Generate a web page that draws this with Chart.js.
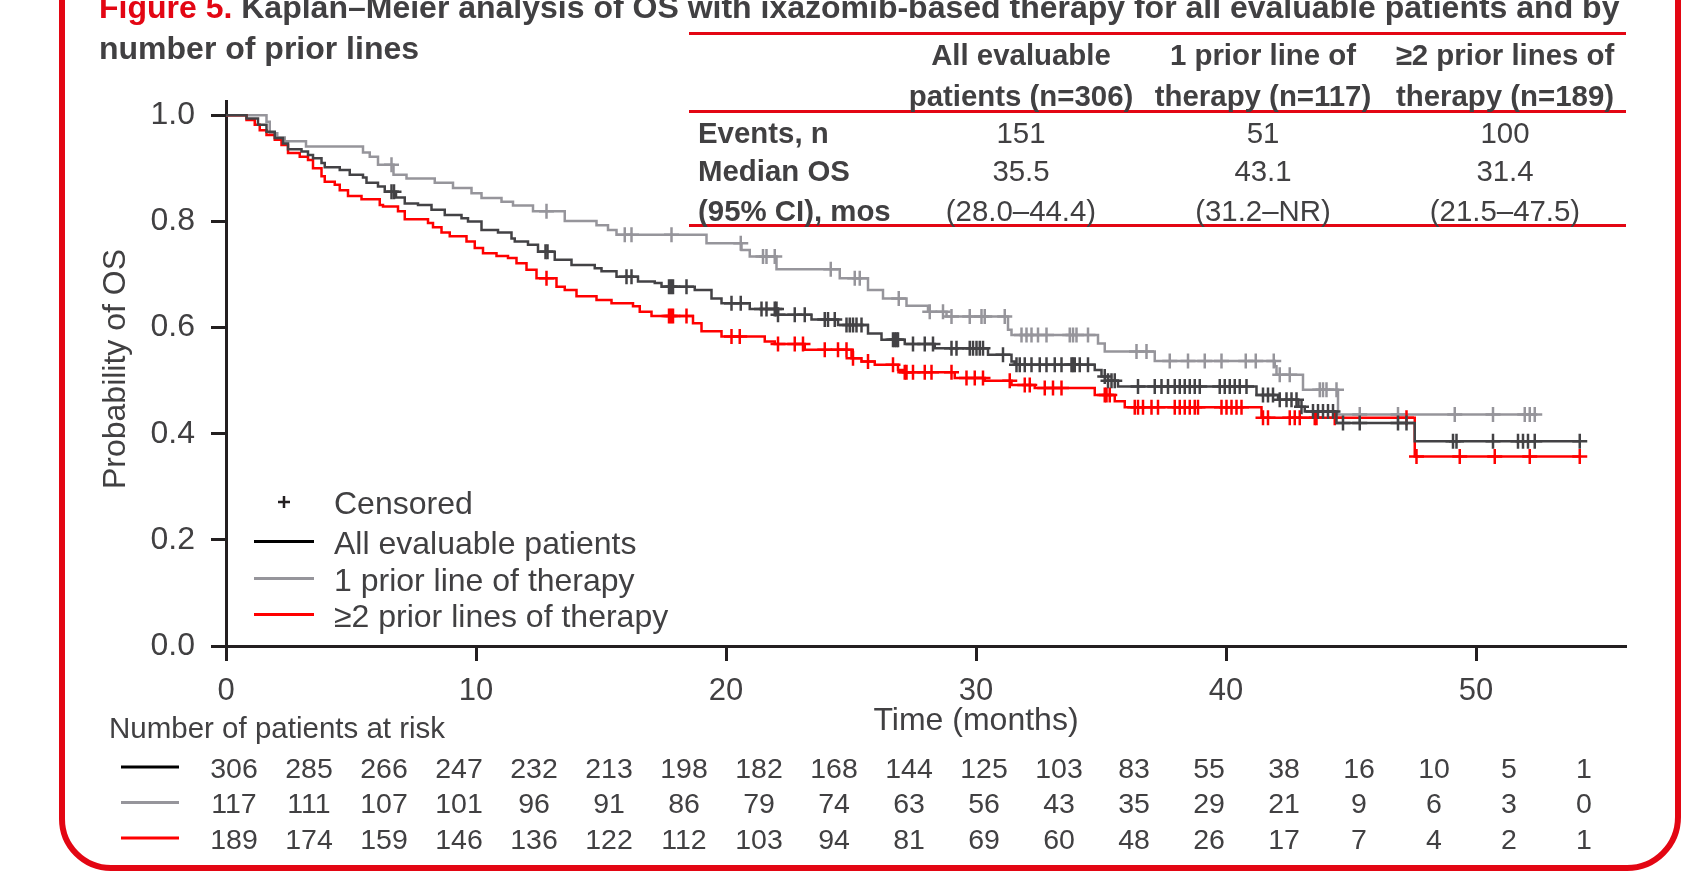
<!DOCTYPE html>
<html>
<head>
<meta charset="utf-8">
<script src="https://cdn.jsdelivr.net/npm/chart.js@4.4.1/dist/chart.umd.min.js"></script>
<style>
  html, body { margin: 0; padding: 0; background: #fff; }
  body { width: 1682px; height: 891px; position: relative; overflow: hidden;
         font-family: "Liberation Sans", Arial, sans-serif; color: #414042; }
  #km { position: absolute; left: 0; top: 0; }
  .frame { position: absolute; left: 59px; top: -20px; width: 1622px; height: 891px;
           box-sizing: border-box; border: 6px solid #e30613; border-radius: 0 0 54px 52px; }
  .title { position: absolute; left: 99px; top: -12.8px; font-size: 32px; font-weight: bold;
           line-height: 40.5px; white-space: nowrap; }
  .title .fig { color: #e30613; }
  .rule { position: absolute; left: 689px; width: 937px; height: 3px; background: #e30613; }
  .cell { position: absolute; font-size: 29.4px; line-height: 29px; white-space: nowrap;
          transform: translate(-50%, -50%); }
  .lab { position: absolute; left: 698px; font-size: 29.4px; line-height: 29px; font-weight: bold;
         white-space: nowrap; transform: translateY(-50%); }
  .hd { font-weight: bold; }
</style>
</head>
<body>
<canvas id="km" width="1682" height="891"></canvas>
<div class="frame"></div>
<div class="title"><span class="fig">Figure 5.</span> Kaplan–Meier analysis of OS with ixazomib-based therapy for all evaluable patients and by<br>number of prior lines</div>
<div id="stats"></div>
<script>
// Kaplan–Meier OS. *Times = month of each step, *Surv = S(t) after it.
var allTimes = [0, 0.82, 1.28, 1.62, 1.95, 2.28, 2.48, 3.02, 3.28, 3.48, 3.82, 3.95, 4.55, 4.95, 5.48, 5.62, 6.08, 6.35, 6.8, 7.15,
  7.68, 8.22, 8.75, 9.42, 9.68, 10.22, 10.88, 11.42, 11.55, 12.08, 12.48, 13.15, 13.82, 14.75, 15.02, 15.62, 16.48, 17.15, 17.42, 18.75,
  19.42, 19.82, 20.95, 22.08, 23.42, 24.48, 25.68, 26.22, 27.15, 28.35, 30.48, 31.42, 31.55, 34.75, 35.02, 35.28, 35.68, 41.22, 42.08, 42.9,
  43.15, 44.42, 47.55];
var allSurv = [1.0, 0.994, 0.982, 0.969, 0.957, 0.947, 0.936, 0.932, 0.925, 0.919, 0.910, 0.902, 0.897, 0.888, 0.883, 0.873, 0.866, 0.856, 0.845, 0.834,
  0.831, 0.822, 0.812, 0.806, 0.800, 0.784, 0.779, 0.768, 0.762, 0.756, 0.743, 0.728, 0.718, 0.712, 0.706, 0.696, 0.687, 0.684, 0.677, 0.671,
  0.655, 0.646, 0.635, 0.624, 0.615, 0.605, 0.589, 0.577, 0.569, 0.561, 0.549, 0.536, 0.530, 0.520, 0.508, 0.500, 0.489, 0.473, 0.464, 0.451,
  0.442, 0.420, 0.386];
var allCensor = [6.62, 6.72, 12.78, 12.86, 16.02, 16.22, 17.72, 17.8, 17.88, 18.42, 20.22, 20.59, 21.42, 21.62, 21.95, 22.02, 22.08, 22.75,
  23.15, 23.95, 24.08, 24.35, 24.82, 24.95, 25.08, 25.22, 25.42, 26.68, 26.75, 26.82, 26.88, 27.48, 27.95, 28.28, 29.02, 29.22, 29.75, 29.88,
  30.02, 30.15, 30.28, 31.08, 31.62, 31.75, 31.95, 32.22, 32.55, 32.82, 33.15, 33.42, 33.82, 33.88, 33.95, 34.15, 34.48, 35.15, 35.28, 35.42,
  35.55, 36.48, 37.15, 37.42, 37.68, 37.95, 38.15, 38.35, 38.55, 38.75, 38.95, 39.75, 39.95, 40.15, 40.35, 40.55, 40.82, 41.48, 41.68, 41.88,
  42.15, 42.42, 42.62, 42.82, 43.02, 43.48, 43.68, 43.88, 44.08, 44.28, 44.68, 45.35, 46.88, 47.22, 49.08, 49.22, 50.68, 51.68, 51.88, 52.08,
  52.35, 54.15];

var oneTimes = [0, 1.62, 1.75, 2.05, 2.35, 3.2, 5.48, 5.75, 6.08, 6.7, 7.22, 8.35, 9.08, 9.82, 10.22, 11.02, 11.48, 12.28, 13.55, 14.82,
  15.28, 15.62, 19.22, 20.62, 20.95, 22.02, 24.55, 25.68, 26.28, 27.22, 28.08, 28.82, 31.28, 31.42, 34.88, 35.15, 37.15, 41.95, 42.02, 43.08,
  44.48];
var oneSurv = [1.0, 0.988, 0.966, 0.958, 0.951, 0.941, 0.930, 0.922, 0.907, 0.888, 0.881, 0.873, 0.863, 0.853, 0.844, 0.837, 0.830, 0.819, 0.801, 0.793,
  0.784, 0.775, 0.759, 0.746, 0.734, 0.710, 0.693, 0.671, 0.655, 0.641, 0.630, 0.621, 0.596, 0.586, 0.570, 0.555, 0.537, 0.527, 0.511, 0.483,
  0.436];
var oneCensor = [6.62, 12.82, 15.95, 16.22, 17.82, 20.59, 21.48, 21.62, 21.95, 24.19, 25.15, 25.35, 26.91, 28.15, 28.68, 29.02, 29.75, 30.22,
  30.35, 31.15, 31.82, 32.02, 32.22, 32.48, 32.82, 33.75, 33.88, 34.02, 34.48, 36.42, 36.82, 37.75, 38.48, 39.15, 39.82, 40.79, 41.19, 41.91,
  42.15, 42.55, 43.75, 43.88, 44.02, 44.42, 45.35, 46.88, 49.15, 50.68, 51.95, 52.15, 52.35];

var twoTimes = [0, 0.82, 1.15, 1.35, 1.62, 1.95, 2.22, 2.48, 2.95, 3.28, 3.48, 3.82, 3.95, 4.35, 4.55, 4.88, 5.42, 6.15, 6.28, 6.88,
  7.15, 8.08, 8.28, 8.62, 8.95, 9.62, 9.95, 10.28, 10.82, 11.28, 11.62, 12.02, 12.42, 13.22, 13.55, 14.02, 14.82, 15.42, 16.28, 16.55,
  17.02, 18.68, 19.02, 19.82, 21.55, 21.95, 23.15, 25.02, 25.42, 25.95, 26.88, 27.08, 29.15, 30.35, 31.42, 32.35, 34.75, 35.55, 35.95, 41.42,
  47.55];
var twoSurv = [1.0, 0.991, 0.982, 0.972, 0.963, 0.954, 0.944, 0.929, 0.922, 0.916, 0.900, 0.885, 0.875, 0.869, 0.859, 0.848, 0.842, 0.831, 0.828, 0.819,
  0.804, 0.797, 0.789, 0.779, 0.772, 0.762, 0.750, 0.740, 0.735, 0.731, 0.721, 0.709, 0.693, 0.677, 0.671, 0.659, 0.652, 0.646, 0.640, 0.630,
  0.622, 0.608, 0.593, 0.583, 0.574, 0.569, 0.558, 0.542, 0.536, 0.530, 0.520, 0.516, 0.505, 0.500, 0.492, 0.486, 0.473, 0.461, 0.450, 0.430,
  0.357];
var twoCensor = [12.82, 17.72, 17.8, 17.88, 18.42, 20.22, 20.55, 22.08, 22.75, 23.08, 23.95, 24.48, 24.82, 25.08, 25.68, 26.68, 27.15, 27.22,
  27.48, 27.95, 28.22, 29.02, 29.62, 29.95, 30.28, 31.35, 31.95, 32.15, 32.75, 33.08, 33.42, 35.15, 35.22, 35.35, 36.35, 36.48, 36.68, 37.02,
  37.28, 37.95, 38.15, 38.35, 38.55, 38.75, 38.88, 39.82, 40.02, 40.22, 40.42, 40.62, 41.48, 41.68, 42.55, 42.75, 42.95, 43.55, 43.62, 44.35,
  47.22, 47.62, 49.35, 50.75, 52.15, 54.15];

// axes
var xTicks = [0, 10, 20, 30, 40, 50];
var yTicks = [0, 0.2, 0.4, 0.6, 0.8, 1.0];

// number at risk, every 3 months
var riskTimes = [0, 3, 6, 9, 12, 15, 18, 21, 24, 27, 30, 33, 36, 39, 42, 45, 48, 51, 54];
var riskAll = [306, 285, 266, 247, 232, 213, 198, 182, 168, 144, 125, 103, 83, 55, 38, 16, 10, 5, 1];
var riskOne = [117, 111, 107, 101, 96, 91, 86, 79, 74, 63, 56, 43, 35, 29, 21, 9, 6, 3, 0];
var riskTwo = [189, 174, 159, 146, 136, 122, 112, 103, 94, 81, 69, 60, 48, 26, 17, 7, 4, 2, 1];

// summary table
var statHeads = [["All evaluable", "patients (n=306)"], ["1 prior line of", "therapy (n=117)"], ["\u22652 prior lines of", "therapy (n=189)"]];
var statLabels = ["Events, n", "Median OS", "(95% CI), mos"];
var statEvents = ["151", "51", "100"];
var statMedian = ["35.5", "43.1", "31.4"];
var statCI = ["(28.0\u201344.4)", "(31.2\u2013NR)", "(21.5\u201347.5)"];

var groupNames = ["All evaluable patients", "1 prior line of therapy", "\u22652 prior lines of therapy"];

var FONT = '"Liberation Sans", Arial, sans-serif';
var TEXT = "#414042", AXIS = "#231f20";
var COL_ALL = "#434245", COL_ONE = "#96959b", COL_TWO = "#ff0000";

function survAt(times, surv, t) {
  var s = surv[0];
  for (var i = 0; i < times.length; i++) if (times[i] <= t) s = surv[i];
  return s;
}

function stepPoints(times, surv, censor) {
  var pts = times.map(function (t, i) { return { x: t, y: surv[i] }; });
  var end = censor[censor.length - 1];
  pts.push({ x: end, y: survAt(times, surv, end) });
  return pts;
}

function censorPoints(times, surv, censor) {
  return censor.map(function (t) { return { x: t, y: survAt(times, surv, t) }; });
}

function curve(label, color, times, surv, censor) {
  return [
    { type: "line", label: label, data: stepPoints(times, surv, censor), stepped: true,
      borderColor: color, borderWidth: 2.5, pointRadius: 0, fill: false },
    { type: "scatter", label: label + " censored", data: censorPoints(times, surv, censor),
      pointStyle: "cross", pointRadius: 7.5, borderColor: color, backgroundColor: color, pointBorderWidth: 2.5, borderWidth: 2.5 }
  ];
}

// stats table as DOM text
(function buildStats() {
  var box = document.getElementById("stats");
  var colX = [1021, 1263, 1505];
  var html = "";
  [32, 110, 224].forEach(function (y) { html += '<div class="rule" style="top:' + y + 'px"></div>'; });
  statHeads.forEach(function (h, i) {
    html += '<div class="cell hd" style="left:' + colX[i] + 'px;top:54px">' + h[0] + "</div>";
    html += '<div class="cell hd" style="left:' + colX[i] + 'px;top:95px">' + h[1] + "</div>";
  });
  var rowY = [132, 170, 209.5];
  statLabels.forEach(function (l, r) { html += '<div class="lab" style="top:' + rowY[r] + 'px">' + l + "</div>"; });
  [statEvents, statMedian, statCI].forEach(function (row, r) {
    row.forEach(function (v, i) {
      html += '<div class="cell" style="left:' + colX[i] + 'px;top:' + rowY[r] + 'px">' + v + "</div>";
    });
  });
  box.innerHTML = html;
})();

var extras = {
  id: "extras",
  afterDraw: function (chart) {
    var ctx = chart.ctx, xs = chart.scales.x;
    ctx.save();
    ctx.fillStyle = TEXT;
    ctx.textBaseline = "middle";

    // axis titles
    ctx.font = "32px " + FONT;
    ctx.textAlign = "center";
    ctx.fillText("Time (months)", xs.getPixelForValue(30), 721);
    ctx.save();
    ctx.translate(116, 369);
    ctx.rotate(-Math.PI / 2);
    ctx.fillText("Probability of OS", 0, 0);
    ctx.restore();

    // legend
    ctx.textAlign = "left";
    ctx.strokeStyle = AXIS; ctx.lineWidth = 2.5;
    ctx.beginPath();
    ctx.moveTo(278, 502); ctx.lineTo(290, 502);
    ctx.moveTo(284, 496); ctx.lineTo(284, 508);
    ctx.stroke();
    ctx.fillText("Censored", 334, 505);
    var legCols = ["#000000", COL_ONE, COL_TWO];
    var legY = [545.5, 582.5, 618.5];
    legY.forEach(function (y, i) {
      ctx.strokeStyle = legCols[i]; ctx.lineWidth = 3;
      ctx.beginPath(); ctx.moveTo(254, y - 4); ctx.lineTo(314, y - 4); ctx.stroke();
      ctx.fillText(groupNames[i], 334, y);
    });

    // number at risk
    ctx.font = "29.5px " + FONT;
    ctx.fillText("Number of patients at risk", 109, 730);
    ctx.font = "28.5px " + FONT;
    ctx.textAlign = "center";
    var rows = [riskAll, riskOne, riskTwo];
    var rowY = [770, 805.5, 841];
    rows.forEach(function (row, r) {
      ctx.strokeStyle = legCols[r]; ctx.lineWidth = 3;
      ctx.beginPath(); ctx.moveTo(121, rowY[r] - 3); ctx.lineTo(179, rowY[r] - 3); ctx.stroke();
      row.forEach(function (n, i) {
        ctx.fillText(String(n), xs.getPixelForValue(riskTimes[i]) + 8, rowY[r]);
      });
    });
    ctx.restore();
  }
};

new Chart(document.getElementById("km"), {
  data: {
    datasets: [].concat(
      curve(groupNames[0], COL_ALL, allTimes, allSurv, allCensor),
      curve(groupNames[2], COL_TWO, twoTimes, twoSurv, twoCensor),
      curve(groupNames[1], COL_ONE, oneTimes, oneSurv, oneCensor)
    )
  },
  options: {
    responsive: false,
    animation: false,
    devicePixelRatio: 1,
    layout: { padding: { left: 0, top: 101.5, right: 56, bottom: 0 } },
    plugins: { legend: { display: false }, tooltip: { enabled: false } },
    scales: {
      x: {
        type: "linear", min: 0, max: 56,
        afterBuildTicks: function (s) { s.ticks = xTicks.map(function (v) { return { value: v }; }); },
        afterFit: function (s) { s.height = 245; },
        ticks: { font: { size: 31, family: FONT }, color: TEXT, padding: 12, maxRotation: 0 },
        grid: { drawOnChartArea: false, drawTicks: true, tickLength: 15, tickWidth: 3, tickColor: AXIS },
        border: { color: AXIS, width: 3 }
      },
      y: {
        type: "linear", min: 0, max: 1.026,
        afterBuildTicks: function (s) { s.ticks = yTicks.map(function (v) { return { value: v }; }); },
        afterFit: function (s) { s.width = 226; },
        ticks: { font: { size: 32, family: FONT }, color: TEXT, padding: 16,
                 callback: function (v) { return v.toFixed(1); } },
        grid: { drawOnChartArea: false, drawTicks: true, tickLength: 15, tickWidth: 3, tickColor: AXIS },
        border: { color: AXIS, width: 3 }
      }
    }
  },
  plugins: [extras]
});
</script>
</body>
</html>
